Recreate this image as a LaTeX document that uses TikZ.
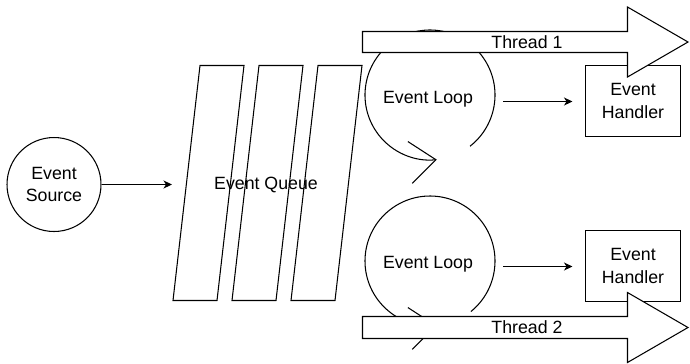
\documentclass[tikz,border=0pt]{standalone}
\usepackage{fontspec}
\setmainfont{Liberation Sans}
\usetikzlibrary{positioning,arrows.meta}
\tikzset{
  flowarrow/.style={-{Stealth[length=1.7mm, width=1.6mm, inset=0.5mm]}, line width=0.6pt},
  sourcenode/.style={draw, circle, line width=0.6pt, minimum size=1.88cm, inner sep=0pt, align=center},
  handlerbox/.style={draw, line width=0.6pt, fill=white, minimum width=1.9cm, minimum height=1.42cm, inner sep=0pt, align=center},
  queuebar/.style={draw, line width=0.6pt},
  loopline/.style={line width=0.6pt, -{Straight Barb[length=0.52cm, width=0.84cm, line width=0.6pt]}},
  threadarrow/.style={draw, fill=white, line width=0.6pt},
  textlabel/.style={inner sep=0pt, align=center}
}

\begin{document}
\begin{tikzpicture}[x=0.02cm, y=-0.02cm, every node/.style={font=\fontsize{10.1}{12.6}\selectfont}]
  \useasboundingbox (0,0) rectangle (690,363);
  % event queue
  \foreach \dx in {0,59,118}
    \draw[queuebar] (200+\dx,65.5) -- (244+\dx,65.5) -- (217+\dx,300.5) -- (173+\dx,300.5) -- cycle;
  \node[textlabel] (queue) at (266,185) {Event Queue};
  \coordinate (qin) at (172,184.5);
  % source
  \node[sourcenode] (src) at (54,184.5) {Event\\Source};
  \draw[flowarrow] (src.east) -- (qin);
  % loops
  \coordinate (loopAc) at (430,95);
  \coordinate (loopBc) at (430,261);
  \draw[loopline] (loopAc) ++(52:65) arc[start angle=52, end angle=-276, radius=65];
  \draw[loopline] (loopBc) ++(51:65) arc[start angle=51, end angle=-276, radius=65];
  \node[textlabel] (loopA) at (428,99) {Event Loop};
  \node[textlabel] (loopB) at (428,264) {Event Loop};
  % handlers
  \node[handlerbox] (hA) at (633,101) {Event\\Handler};
  \node[handlerbox] (hB) at (633,266) {Event\\Handler};
  \coordinate (loopAout) at (503,101.5);
  \coordinate (loopBout) at (503,266.5);
  \draw[flowarrow, shorten >=0.25cm] (loopAout) -- (loopAout -| hA.west);
  \draw[flowarrow, shorten >=0.25cm] (loopBout) -- (loopBout -| hB.west);
  % threads
  \draw[threadarrow] (362.5,31.5) -- (627.5,31.5) -- (627.5,7) -- (688,42) -- (627.5,77) -- (627.5,52.5) -- (362.5,52.5) -- cycle;
  \node[textlabel] (tA) at (527,42) {Thread 1};
  \draw[threadarrow] (362.5,316.5) -- (627.5,316.5) -- (627.5,292.5) -- (688,327.5) -- (627.5,362.5) -- (627.5,338.5) -- (362.5,338.5) -- cycle;
  \node[textlabel] (tB) at (527,327.5) {Thread 2};
\end{tikzpicture}
\end{document}
